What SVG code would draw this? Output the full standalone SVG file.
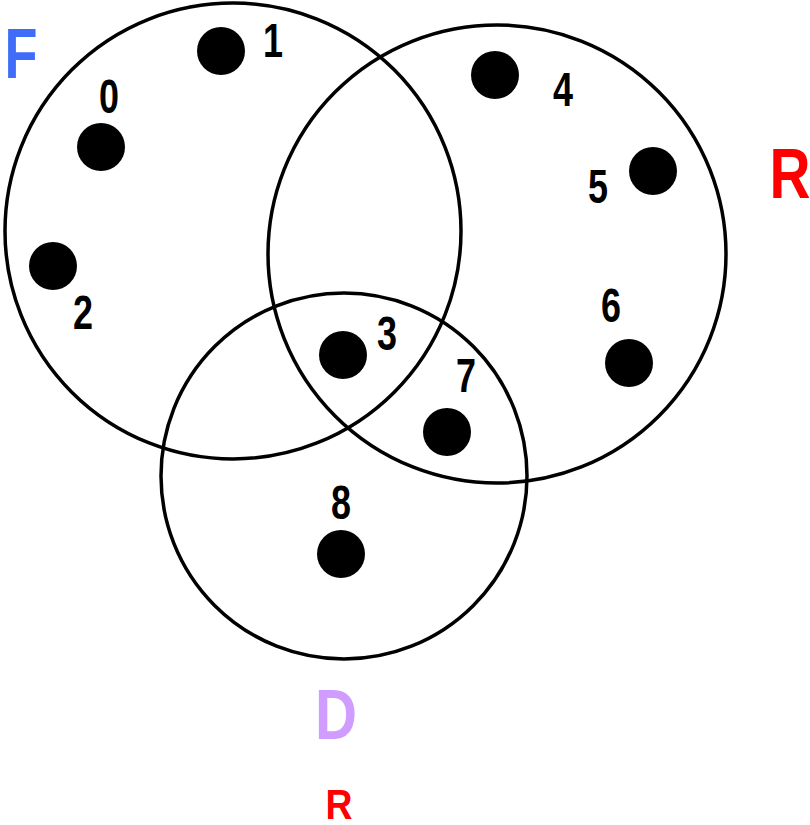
<svg xmlns="http://www.w3.org/2000/svg" width="810" height="825" viewBox="0 0 810 825">
<style>
.set{fill:none;stroke:#000;stroke-width:3.5}
.dot{fill:#000}
.num{font-family:"Liberation Sans",Arial,sans-serif;font-weight:bold;font-size:49px;fill:#000;text-anchor:middle}
.big{font-family:"Liberation Sans",Arial,sans-serif;font-weight:bold;font-size:71px;text-anchor:middle}
</style>
<rect width="810" height="825" fill="#fff"/>
<g id="sets">
<circle class="set" cx="233" cy="231" r="228"/>
<circle class="set" cx="497" cy="254" r="229"/>
<circle class="set" cx="344" cy="476" r="183"/>
</g>
<g id="connectors"></g>
<g id="n0"><circle class="dot" cx="101" cy="147" r="24"/><text class="num" x="109" y="113" textLength="20" lengthAdjust="spacingAndGlyphs">0</text></g>
<g id="n1"><circle class="dot" cx="221" cy="51" r="24"/><text class="num" x="273" y="57" textLength="20" lengthAdjust="spacingAndGlyphs">1</text></g>
<g id="n2"><circle class="dot" cx="53" cy="266" r="24"/><text class="num" x="83" y="329" textLength="20" lengthAdjust="spacingAndGlyphs">2</text></g>
<g id="n3"><circle class="dot" cx="343" cy="355" r="24"/><text class="num" x="387" y="350" textLength="20" lengthAdjust="spacingAndGlyphs">3</text></g>
<g id="n4"><circle class="dot" cx="495" cy="75" r="24"/><text class="num" x="563" y="106" textLength="20" lengthAdjust="spacingAndGlyphs">4</text></g>
<g id="n5"><circle class="dot" cx="653" cy="171" r="24"/><text class="num" x="598" y="203" textLength="20" lengthAdjust="spacingAndGlyphs">5</text></g>
<g id="n6"><circle class="dot" cx="629" cy="363" r="24"/><text class="num" x="611" y="322" textLength="20" lengthAdjust="spacingAndGlyphs">6</text></g>
<g id="n7"><circle class="dot" cx="447" cy="432" r="24"/><text class="num" x="466" y="392" textLength="20" lengthAdjust="spacingAndGlyphs">7</text></g>
<g id="n8"><circle class="dot" cx="341" cy="554" r="24"/><text class="num" x="341" y="519" textLength="20" lengthAdjust="spacingAndGlyphs">8</text></g>
<g id="labels">
<text class="big" x="21" y="78" fill="#3f6dfa" textLength="33" lengthAdjust="spacingAndGlyphs">F</text>
<text class="big" x="790" y="198" fill="#ff0000" textLength="41" lengthAdjust="spacingAndGlyphs">R</text>
<text class="big" x="336" y="739" fill="#d09cff" textLength="42" lengthAdjust="spacingAndGlyphs">D</text>
<text x="339" y="819" fill="#ff0000" font-family="Liberation Sans, Arial, sans-serif" font-weight="bold" font-size="42" text-anchor="middle" textLength="27" lengthAdjust="spacingAndGlyphs">R</text>
</g>
</svg>
